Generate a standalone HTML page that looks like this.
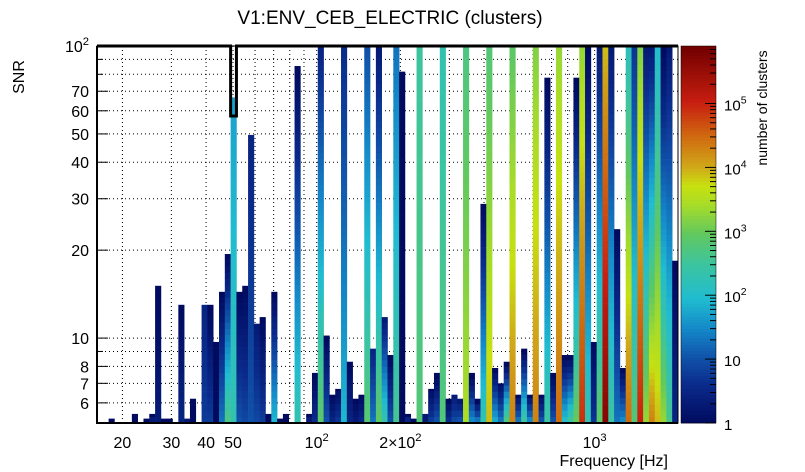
<!DOCTYPE html>
<html><head><meta charset="utf-8"><style>
body{margin:0;background:#fff;}
svg{display:block;font-family:"Liberation Sans",sans-serif;}
</style></head><body>
<svg id="chart" width="805" height="472" viewBox="0 0 805 472" xmlns="http://www.w3.org/2000/svg">
<rect x="0" y="0" width="805" height="472" fill="#fff"/>
<text x="390" y="24" font-size="19" text-anchor="middle">V1:ENV_CEB_ELECTRIC (clusters)</text>
<g id="grid"></g>
<g id="cells"></g>
<g id="axes"></g>
<g id="cbar"></g>
<text transform="translate(24,77) rotate(-90)" font-size="16" text-anchor="middle">SNR</text>
<text x="668" y="466" font-size="16" text-anchor="end">Frequency [Hz]</text>
<text transform="translate(767,108) rotate(-90)" font-size="14" text-anchor="middle">number of clusters</text>
</svg>
<script>
// ---- data ----
const colBin =   [2,6,8,9,10,11,12,14,15,16,18,19,20,21,22,23,24,25,26,27,28,29,30,31,32,34,36,37,38,39,40,41,42,43,44,45,46,47,48,49,50,51,52,53,54,55,56,57,58,59,60,61,62,63,64,65,66,67,68,69,70,71,72,73,74,75,76,77,78,79,80,81,82,83,84,85,86,87,88,89,90,91,92,93,94,95,96,97,98,99];
const colMaxSNR = [5.3,5.5,5.3,5.5,15.1,5.3,5.3,13,5.3,6.2,13,13,9.7,14.4,19.4,66.7,14.4,15.1,49.6,11.2,11.8,5.5,14.4,5.3,5.5,85.4,5.5,7.6,100,10.2,6.4,6.7,100,8.3,6.2,6.4,100,9.2,100,11.8,8.75,100,81.7,5.5,5.3,100,5.5,6.7,7.6,100,6.2,6.4,6.2,100,7.6,6.2,28.8,100,7.9,7.0,8.3,100,6.4,9.2,6.4,100,6.4,77.9,7.6,100,8.75,8.75,77.9,100,100,9.7,100,100,100,23.6,7.9,100,100,100,100,100,100,100,100,18.4];
const colCountTop = [1,1,1,1,1,1,1,1,2,1,3,1,1,1,1,50,1,1,3,2,1,1,1,1,1,1,1,1,3,1,1,1,4,1,1,1,10,3,2,2,1,20,1,1,1,300,2,1,1,200,1,2,2,500,1,1,1,600,1,1,1,800,1,1,1,1500,1,1,1,2000,1,1,1,2000,1,1,2,8000,2,1,1,150,5,1500,2,2,100,1,2,1];
const colCountBot = [1,1,1,2,2,1,1,3,2,1,6,6,1,20,500,200,10,8,10,8,6,1,80,1,1,200,2,4,800,10,3,5,80,3,2,3,700,20,800,200,10,400,1,3,1,600,2,6,10,600,4,8,10,3000,30,20,200,8000,60,20,500,20000,20,300,30,20000,10,300,10,30000,100,300,1000,80000,200,5,800,500000,300,20,30,30000,600,100000,2000,20000,8000,2000,400,3];
const contourNotchSNR = 57.6;
const xTickVals = [20,30,40,50,100,200,1000];
const xTickLabels = ["20","30","40","50","10|2","2×10|2","10|3"];
const yTickVals = [6,7,8,10,20,30,40,50,60,70,100];
const yTickLabels = ["6","7","8","10","20","30","40","50","60","70","10|2"];
const cbTickVals = [1,10,100,1000,10000,100000];
const cbTickLabels = ["1","10","10|2","10|3","10|4","10|5"];

// ---- axes config ----
const X0=97,X1=678,Y0=46,Y1=423;
const XMIN=16.2,XMAX=1995,YMIN=5.12,YMAX=100,NXB=100,NYB=60;
const CB0=681,CB1=716,CMAX=Math.pow(10,5.9);
const NS="http://www.w3.org/2000/svg";
const lx=Math.log10;
function fx(f){return X0+(lx(f)-lx(XMIN))/(lx(XMAX)-lx(XMIN))*(X1-X0);}
function fy(s){return Y1-(lx(s)-lx(YMIN))/(lx(YMAX)-lx(YMIN))*(Y1-Y0);}
function fc(c){return Y1-lx(c)/lx(CMAX)*(Y1-Y0);}
function binEdge(i){return Math.pow(10,lx(XMIN)+i*(lx(XMAX)-lx(XMIN))/NXB);}
function rowEdge(j){return Math.pow(10,lx(YMIN)+j*(lx(YMAX)-lx(YMIN))/NYB);}
const stops=[[0,[0,10,95]],[0.10,[10,42,138]],[0.17,[16,80,168]],[0.25,[20,136,200]],[0.33,[32,188,208]],[0.42,[60,196,160]],[0.50,[96,200,96]],[0.58,[168,220,40]],[0.63,[200,224,16]],[0.68,[208,168,24]],[0.76,[208,106,16]],[0.85,[200,30,16]],[1,[112,0,0]]];
function pal(t){t=Math.max(0,Math.min(1,t));for(let k=1;k<stops.length;k++){if(t<=stops[k][0]){const a=stops[k-1],b=stops[k];const u=(t-a[0])/(b[0]-a[0]);const c=a[1].map((v,m)=>Math.round(v+(b[1][m]-v)*u));return `rgb(${c[0]},${c[1]},${c[2]})`;}}return "rgb(112,0,0)";}
function mk(tag,attrs,parent){const e=document.createElementNS(NS,tag);for(const k in attrs)e.setAttribute(k,attrs[k]);parent.appendChild(e);return e;}
function supText(parent,x,y,lab,anchor,size){
  const t=mk('text',{x:x,y:y,'font-size':size,'text-anchor':anchor},parent);
  const p=lab.split('|');t.textContent=p[0];
  if(p[1]){const s=mk('tspan',{dy:-7,'font-size':size*0.7},t);s.textContent=p[1];}
  return t;}

// grid
const grid=document.getElementById('grid');
const gx=[];for(let d=10;d<=1000;d*=10)for(let m=1;m<10;m++){const v=d*m;if(v>XMIN&&v<XMAX)gx.push(v);}
gx.forEach(v=>{const l=mk('line',{x1:fx(v),x2:fx(v),y1:Y0,y2:Y1,stroke:'#000','stroke-width':1,'stroke-dasharray':'1,3'},grid);

});
const gy=[6,7,8,9,10,20,30,40,50,60,70,80,90];
gy.forEach(v=>{const l=mk('line',{x1:X0,x2:X1,y1:fy(v),y2:fy(v),stroke:'#000','stroke-width':1,'stroke-dasharray':'1,3'},grid);

});

// cells
const cells=document.getElementById('cells');
colBin.forEach((b,k)=>{
  const top=colMaxSNR[k];const xa=fx(binEdge(b)),xb=fx(binEdge(b+1));
  const yTop=fy(top);const nrows=[];
  for(let j=0;j<NYB;j++){if(rowEdge(j)<top-1e-9)nrows.push(j);}
  const n=nrows.length;
  nrows.forEach((j,idx)=>{
    const u=n>1?idx/(n-1):1;
    const lc=lx(colCountBot[k])+(lx(colCountTop[k])-lx(colCountBot[k]))*u;
    const ya=fy(rowEdge(j)),yb=Math.max(fy(rowEdge(j+1)),yTop);
    const r=mk('rect',{x:xa,y:yb,width:xb-xa+0.3,height:ya-yb+0.3,fill:pal(lc/lx(CMAX))},cells);
    
    
  });
});

// axes
const ax=document.getElementById('axes');
mk('rect',{x:X0,y:Y0,width:X1-X0,height:Y1-Y0,fill:'none',stroke:'#000','stroke-width':1},ax);
mk('line',{x1:X0,x2:X0,y1:Y0,y2:Y1+1,stroke:'#000','stroke-width':2},ax);
mk('line',{x1:X0,x2:X1,y1:Y1,y2:Y1,stroke:'#000','stroke-width':2},ax);
const cont=mk('path',{d:`M${X0},${Y0}H${fx(binEdge(23))}V${fy(contourNotchSNR)}H${fx(binEdge(24))}V${Y0}H${X1}`,fill:'none',stroke:'#000','stroke-width':3},ax);


gy.concat([100]).forEach(v=>{mk('line',{x1:X0,x2:X0+(yTickVals.includes(v)?11:6),y1:fy(v),y2:fy(v),stroke:'#000','stroke-width':1},ax);});
yTickVals.forEach((v,i)=>{const t=supText(ax,89,fy(v)+6,yTickLabels[i],'end',16);

});
xTickVals.forEach((v,i)=>{const t=supText(ax,fx(v),448,xTickLabels[i],'middle',16);

});

// color bar
const cb=document.getElementById('cbar');
const NC=120;
for(let i=0;i<NC;i++){const ya=Y1-(i+1)*(Y1-Y0)/NC;const r=mk('rect',{x:CB0,y:ya,width:CB1-CB0,height:(Y1-Y0)/NC+0.4,fill:pal((i+0.5)/NC)},cb);

}
mk('rect',{x:CB0,y:Y0,width:CB1-CB0,height:Y1-Y0,fill:'none',stroke:'#000','stroke-width':0.5},cb);
for(let d=1;d<=CMAX;d*=10)for(let m=1;m<10;m++){const v=d*m;if(v>CMAX)break;const big=m===1;
mk('line',{x1:CB1-(big?11:6),x2:CB1,y1:fc(v),y2:fc(v),stroke:'#000','stroke-width':1},cb);}
cbTickVals.forEach((v,i)=>{const t=supText(cb,724,fc(v)+7,cbTickLabels[i],'start',15);

});
</script>
</body></html>
